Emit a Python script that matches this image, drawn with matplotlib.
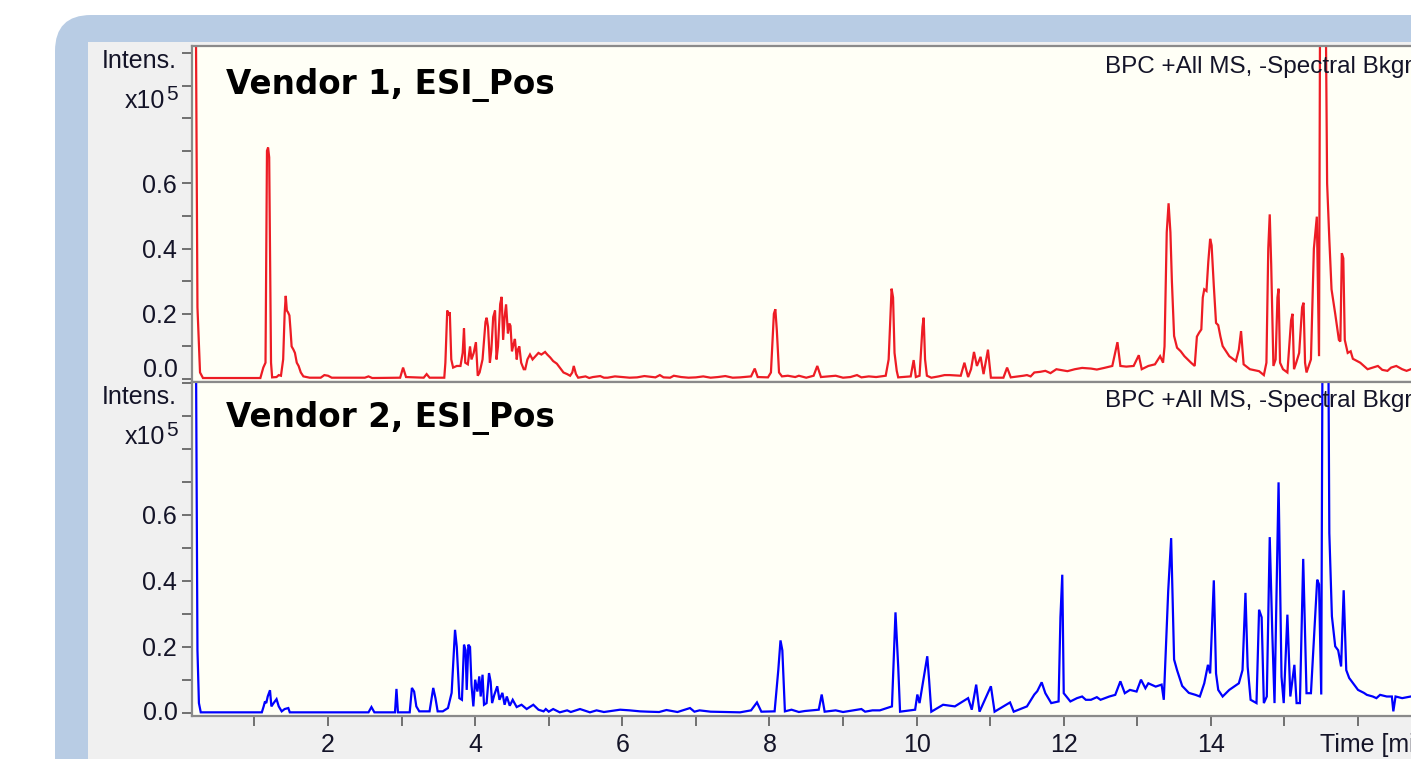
import matplotlib
matplotlib.use("Agg")
import matplotlib.pyplot as plt
from matplotlib.patches import FancyBboxPatch, Rectangle
from matplotlib.transforms import IdentityTransform

plt.rcParams['font.family'] = ['Liberation Sans', 'DejaVu Sans']

# ---------------- data (retention time [min], intensity [x10^5]) ----------------
vendor1_time = [
    0.151, 0.205, 0.225, 0.26, 0.30, 1.08, 1.12, 1.15, 1.17, 1.185, 1.20, 1.225, 1.24,
    1.30, 1.33, 1.36, 1.39, 1.41, 1.425, 1.44, 1.455, 1.475, 1.49, 1.505, 1.53, 1.55,
    1.575, 1.60, 1.63, 1.665, 1.75, 1.90, 1.95, 2.0, 2.05, 2.5, 2.55, 2.6, 2.98, 3.02,
    3.06, 3.30, 3.34, 3.38, 3.58, 3.595, 3.62, 3.64, 3.655, 3.675, 3.70, 3.75, 3.80,
    3.83, 3.848, 3.865, 3.90, 3.93, 3.95, 3.98, 4.01, 4.035, 4.06, 4.10, 4.14, 4.156,
    4.175, 4.20, 4.22, 4.245, 4.27, 4.29, 4.31, 4.34, 4.36, 4.38, 4.40, 4.42, 4.445,
    4.465, 4.48, 4.50, 4.52, 4.54, 4.565, 4.58, 4.60, 4.625, 4.66, 4.68, 4.71, 4.745,
    4.78, 4.82, 4.86, 4.90, 4.95, 4.98, 5.02, 5.06, 5.11, 5.15, 5.20, 5.25, 5.29, 5.32,
    5.34, 5.37, 5.40, 5.6, 5.8, 6.0, 6.2, 6.45, 6.51, 6.56, 6.8, 7.0, 7.3, 7.6, 7.75,
    7.80, 7.84, 7.98, 8.02, 8.06, 8.08, 8.10, 8.13, 8.17, 8.35, 8.40, 8.60, 8.65, 8.70,
    9.1, 9.19, 9.25, 9.45, 9.58, 9.62, 9.66, 9.68, 9.70, 9.73, 9.75, 9.92, 9.96, 9.99,
    10.04, 10.08, 10.096, 10.115, 10.14, 10.30, 10.45, 10.60, 10.65, 10.70, 10.74,
    10.78, 10.82, 10.87, 10.91, 10.97, 11.01, 11.18, 11.23, 11.28, 11.45, 11.60, 11.75,
    11.95, 12.15, 12.37, 12.55, 12.66, 12.73, 12.77, 12.85, 12.95, 13.02, 13.06, 13.15,
    13.24, 13.31, 13.35, 13.37, 13.40, 13.425, 13.45, 13.47, 13.50, 13.54, 13.59, 13.64,
    13.73, 13.78, 13.81, 13.84, 13.87, 13.89, 13.91, 13.94, 13.965, 13.99, 14.01, 14.04,
    14.07, 14.10, 14.13, 14.16, 14.25, 14.34, 14.38, 14.41, 14.445, 14.53, 14.655,
    14.72, 14.755, 14.78, 14.80, 14.82, 14.85, 14.88, 14.905, 14.92, 14.94, 14.98,
    15.04, 15.09, 15.11, 15.13, 15.16, 15.20, 15.24, 15.26, 15.28, 15.30, 15.36, 15.40,
    15.44, 15.47, 15.49, 15.545, 15.58, 15.61, 15.64, 15.69, 15.74, 15.76, 15.78, 15.80,
    15.82, 15.86, 15.90, 15.98, 16.08, 16.2, 16.33, 16.45, 16.6, 16.74, 16.9]
vendor1_intensity = [
    1.30, 1.05, 0.22, 0.02, 0.003, 0.003, 0.035, 0.05, 0.70, 0.71, 0.68, 0.05, 0.005,
    0.006, 0.012, 0.01, 0.06, 0.20, 0.255, 0.21, 0.205, 0.195, 0.15, 0.10, 0.09, 0.08,
    0.05, 0.04, 0.02, 0.008, 0.004, 0.004, 0.012, 0.01, 0.004, 0.004, 0.008, 0.003,
    0.004, 0.035, 0.006, 0.004, 0.015, 0.004, 0.004, 0.05, 0.21, 0.195, 0.205, 0.06,
    0.035, 0.04, 0.04, 0.08, 0.155, 0.05, 0.045, 0.10, 0.06, 0.08, 0.113, 0.01, 0.02,
    0.06, 0.175, 0.188, 0.16, 0.05, 0.09, 0.19, 0.21, 0.06, 0.10, 0.23, 0.252, 0.12,
    0.19, 0.229, 0.14, 0.17, 0.163, 0.085, 0.105, 0.123, 0.06, 0.09, 0.10, 0.05, 0.03,
    0.03, 0.06, 0.075, 0.06, 0.07, 0.08, 0.075, 0.083, 0.075, 0.066, 0.055, 0.047,
    0.035, 0.02, 0.015, 0.01, 0.02, 0.04, 0.015, 0.004, 0.006, 0.004, 0.006, 0.005,
    0.005, 0.012, 0.005, 0.006, 0.005, 0.006, 0.005, 0.008, 0.032, 0.006, 0.005, 0.02,
    0.20, 0.214, 0.15, 0.02, 0.008, 0.006, 0.01, 0.01, 0.04, 0.006, 0.006, 0.012,
    0.005, 0.006, 0.01, 0.06, 0.277, 0.25, 0.08, 0.025, 0.005, 0.008, 0.058, 0.006,
    0.01, 0.16, 0.188, 0.06, 0.01, 0.008, 0.012, 0.01, 0.05, 0.006, 0.03, 0.083, 0.04,
    0.068, 0.015, 0.09, 0.004, 0.004, 0.035, 0.005, 0.01, 0.02, 0.025, 0.028, 0.03,
    0.032, 0.034, 0.04, 0.113, 0.04, 0.038, 0.04, 0.073, 0.03, 0.04, 0.045, 0.07, 0.05,
    0.10, 0.45, 0.539, 0.45, 0.30, 0.132, 0.096, 0.085, 0.07, 0.05, 0.04, 0.13, 0.142,
    0.152, 0.25, 0.275, 0.27, 0.36, 0.43, 0.41, 0.285, 0.172, 0.165, 0.13, 0.101, 0.07,
    0.055, 0.09, 0.147, 0.045, 0.03, 0.024, 0.012, 0.05, 0.40, 0.505, 0.35, 0.04, 0.06,
    0.25, 0.277, 0.05, 0.03, 0.02, 0.18, 0.20, 0.03, 0.05, 0.08, 0.22, 0.234, 0.05,
    0.02, 0.06, 0.40, 0.498, 0.07, 1.60, 1.60, 0.60, 0.428, 0.275, 0.20, 0.12, 0.115,
    0.386, 0.37, 0.12, 0.08, 0.085, 0.056, 0.04, 0.035, 0.028, 0.035, 0.03, 0.032, 0.03]
# small baseline wiggles seen between the peaks of trace 1
vendor1_noise_time = [5.5, 5.55, 5.7, 5.75, 5.9, 6.1, 6.3, 6.65, 6.7, 6.9, 7.1, 7.2,
                      7.4, 7.5, 8.25, 8.5, 8.9, 9.0, 9.35, 10.2, 10.38, 11.5, 11.55,
                      11.68, 11.82, 11.9, 12.05, 12.25, 12.45, 15.93, 16.03, 16.13,
                      16.27, 16.4, 16.52, 16.66]
vendor1_noise_intensity = [0.008, 0.003, 0.009, 0.004, 0.008, 0.004, 0.009, 0.004,
                           0.01, 0.004, 0.008, 0.004, 0.009, 0.004, 0.01, 0.004, 0.01,
                           0.004, 0.008, 0.004, 0.012, 0.012, 0.008, 0.022, 0.018, 0.03,
                           0.024, 0.034, 0.029, 0.062, 0.05, 0.03, 0.04, 0.025, 0.04,
                           0.025]

vendor2_time = [
    0.151, 0.205, 0.225, 0.245, 0.27, 1.10, 1.125, 1.143, 1.16, 1.18, 1.211, 1.23, 1.26,
    1.30, 1.33, 1.37, 1.41, 1.46, 1.48, 2.55, 2.59, 2.63, 2.91, 2.93, 2.95, 3.11, 3.14,
    3.17, 3.20, 3.24, 3.38, 3.43, 3.46, 3.49, 3.56, 3.63, 3.68, 3.726, 3.75, 3.785, 3.82,
    3.848, 3.87, 3.885, 3.907, 3.93, 3.95, 3.975, 4.0, 4.03, 4.056, 4.075, 4.10, 4.12,
    4.155, 4.188, 4.21, 4.23, 4.26, 4.30, 4.33, 4.37, 4.40, 4.43, 4.47, 4.51, 4.564,
    4.63, 4.70, 4.79, 4.86, 4.93, 5.06, 5.15, 5.425, 5.56, 5.97, 6.24, 6.5, 6.92, 6.98,
    7.2, 7.6, 7.75, 7.83, 7.89, 8.07, 8.12, 8.15, 8.175, 8.21, 8.48, 8.67, 8.71, 8.75,
    9.25, 9.3, 9.50, 9.665, 9.713, 9.75, 9.775, 9.98, 10.01, 10.04, 10.145, 10.17, 10.20,
    10.36, 10.52, 10.70, 10.75, 10.81, 10.855, 11.01, 11.06, 11.27, 11.32, 11.5, 11.6,
    11.64, 11.70, 11.75, 11.83, 11.93, 11.955, 11.98, 12.0, 12.09, 12.18, 12.37, 12.62,
    12.70, 12.77, 12.83, 12.99, 13.05, 13.11, 13.20, 13.33, 13.36, 13.42, 13.46, 13.50,
    13.54, 13.61, 13.70, 13.79, 13.85, 13.91, 13.96, 13.99, 14.04, 14.07, 14.10, 14.16,
    14.25, 14.38, 14.43, 14.47, 14.50, 14.54, 14.62, 14.655, 14.69, 14.72, 14.76, 14.80,
    14.835, 14.865, 14.92, 14.96, 14.99, 15.04, 15.08, 15.135, 15.165, 15.21, 15.255,
    15.30, 15.36, 15.445, 15.47, 15.50, 15.525, 15.585, 15.61, 15.645, 15.69, 15.73,
    15.77, 15.805, 15.84, 15.88, 15.95, 16.08, 16.2, 16.39, 16.46, 16.48, 16.51, 16.74,
    16.9]
vendor2_intensity = [
    1.30, 1.10, 0.19, 0.03, 0.002, 0.002, 0.02, 0.035, 0.03, 0.05, 0.069, 0.02, 0.03,
    0.042, 0.02, 0.005, 0.012, 0.015, 0.002, 0.002, 0.018, 0.002, 0.002, 0.073, 0.002,
    0.002, 0.076, 0.065, 0.02, 0.005, 0.005, 0.076, 0.045, 0.005, 0.005, 0.015, 0.061,
    0.252, 0.20, 0.045, 0.04, 0.207, 0.19, 0.07, 0.207, 0.20, 0.085, 0.02, 0.101, 0.065,
    0.111, 0.05, 0.116, 0.025, 0.03, 0.121, 0.095, 0.03, 0.055, 0.081, 0.04, 0.061,
    0.025, 0.05, 0.022, 0.04, 0.018, 0.025, 0.012, 0.025, 0.01, 0.005, 0.012, 0.002,
    0.012, 0.002, 0.01, 0.005, 0.003, 0.015, 0.004, 0.004, 0.002, 0.008, 0.032, 0.004,
    0.005, 0.13, 0.22, 0.19, 0.005, 0.006, 0.01, 0.056, 0.004, 0.012, 0.004, 0.008,
    0.02, 0.305, 0.14, 0.004, 0.01, 0.056, 0.03, 0.172, 0.10, 0.004, 0.025, 0.02, 0.045,
    0.01, 0.086, 0.004, 0.081, 0.004, 0.032, 0.004, 0.02, 0.056, 0.066, 0.093, 0.06,
    0.03, 0.035, 0.29, 0.419, 0.06, 0.035, 0.045, 0.04, 0.05, 0.055, 0.096, 0.06, 0.065,
    0.101, 0.075, 0.085, 0.086, 0.04, 0.37, 0.53, 0.162, 0.13, 0.082, 0.061, 0.055,
    0.05, 0.09, 0.146, 0.12, 0.402, 0.12, 0.07, 0.05, 0.07, 0.09, 0.13, 0.364, 0.14,
    0.04, 0.03, 0.313, 0.29, 0.03, 0.05, 0.533, 0.24, 0.03, 0.699, 0.11, 0.03, 0.298,
    0.05, 0.146, 0.03, 0.03, 0.467, 0.06, 0.06, 0.404, 0.39, 0.056, 1.60, 1.60, 0.545,
    0.293, 0.202, 0.19, 0.141, 0.372, 0.13, 0.106, 0.085, 0.061, 0.05, 0.05, 0.05, 0.005,
    0.05, 0.051, 0.05]
# small baseline wiggles seen between the peaks of trace 2
vendor2_noise_time = [4.96, 5.0, 5.25, 5.3, 5.65, 5.75, 6.1, 6.35, 6.6, 6.75, 7.05, 7.4,
                      8.3, 8.4, 8.9, 9.0, 9.4, 12.25, 12.3, 12.45, 12.5, 12.9, 13.15,
                      13.25, 16.0, 16.12, 16.25, 16.3, 16.6]
vendor2_noise_intensity = [0.012, 0.004, 0.008, 0.003, 0.008, 0.003, 0.008, 0.004, 0.009,
                           0.003, 0.008, 0.003, 0.01, 0.003, 0.008, 0.003, 0.008, 0.05,
                           0.04, 0.048, 0.04, 0.07, 0.09, 0.08, 0.07, 0.055, 0.045,
                           0.055, 0.045]

panel_titles = ["Vendor 1, ESI_Pos", "Vendor 2, ESI_Pos"]
trace_label = "BPC +All MS, -Spectral Bkgrnd"
y_ticks = [0.0, 0.1, 0.2, 0.3, 0.4, 0.5, 0.6, 0.7, 0.8, 0.9, 1.0]
y_ticklabels = ["", "", "0.2", "", "0.4", "", "0.6", "", "", "", ""]
x_ticks = list(range(1, 17))
x_ticklabels = ["", "2", "", "4", "", "6", "", "8", "", "10", "", "12", "", "14", "", ""]


def merged(t_main, v_main, t_extra, v_extra):
    pts = sorted(zip(t_main + t_extra, v_main + v_extra), key=lambda p: p[0])
    return [p[0] for p in pts], [p[1] for p in pts]


trace1_t, trace1_v = merged(vendor1_time, vendor1_intensity,
                            vendor1_noise_time, vendor1_noise_intensity)
trace2_t, trace2_v = merged(vendor2_time, vendor2_intensity,
                            vendor2_noise_time, vendor2_noise_intensity)

# ---------------- layout helpers ----------------
W, H = 1411, 759
fig = plt.figure(figsize=(W / 100, H / 100), dpi=100)
fig.patch.set_facecolor("white")


def fx(x):
    return x / W


def fy(y):
    return 1 - y / H


# blue rounded frame and grey inner panel (pixel coordinates), behind the axes
blue = FancyBboxPatch((55, -60), 1500, 759 - 15 + 60, boxstyle="round,pad=0,rounding_size=36",
                      transform=IdentityTransform(), facecolor="#b8cce4", edgecolor="none",
                      zorder=-2)
fig.add_artist(blue)
grey = Rectangle((88, -60), 1500, 759 - 42 + 60, transform=IdentityTransform(),
                 facecolor="#f0f0f0", edgecolor="none", zorder=-1)
fig.add_artist(grey)

text_color = "#141428"
x_left_px, x_right_px = 192, 1520
t_of_px = lambda x: (x - 180.9) / 73.57

ax1 = fig.add_axes([fx(x_left_px), fy(382), fx(x_right_px - x_left_px), (382 - 46) / H])
ax2 = fig.add_axes([fx(x_left_px), fy(716), fx(x_right_px - x_left_px), (716 - 382) / H])
ax1.set_zorder(2)
ax2.set_zorder(2)

ax1.plot(trace1_t, trace1_v, color="#ed1c24", lw=1.6, solid_joinstyle="miter")
ax2.plot(trace2_t, trace2_v, color="#0000ff", lw=1.6, solid_joinstyle="miter")

ax1.set_ylim((379 - 382) / 326, (379 - 46) / 326)
ax2.set_ylim((713 - 716) / 330, (713 - 382) / 330)

for ax in (ax1, ax2):
    ax.set_facecolor("#fffff6")
    ax.set_xlim(t_of_px(x_left_px), t_of_px(x_right_px))
    for s in ax.spines.values():
        s.set_color("#8a8a8a")
        s.set_linewidth(1.6)
    ax.spines["right"].set_visible(False)
    ax.set_yticks(y_ticks)
    ax.set_yticklabels(y_ticklabels)
    ax.tick_params(axis="y", direction="out", length=7, width=1.4, color="#707070",
                   labelsize=18, labelcolor=text_color, pad=4)

ax1.tick_params(axis="x", bottom=False, labelbottom=False)
ax2.set_xticks(x_ticks)
ax2.set_xticklabels(x_ticklabels)
ax2.tick_params(axis="x", direction="out", length=7, width=1.4, color="#707070",
                labelsize=18, labelcolor=text_color, pad=5)

# y labels: "Intens. x10^5" and the shifted 0.0 of the top panel
for off in (0, 336):
    fig.text(fx(177), fy(61 + off), "Intens.", ha="right", va="center", fontsize=18,
             color=text_color)
    fig.text(fx(165), fy(108 + off), "x10", ha="right", va="baseline", fontsize=18,
             color=text_color)
    fig.text(fx(166), fy(100 + off), "5", ha="left", va="baseline", fontsize=15,
             color=text_color)
fig.text(fx(178), fy(370), "0.0", ha="right", va="center", fontsize=18, color=text_color)
fig.text(fx(178), fy(713), "0.0", ha="right", va="center", fontsize=18, color=text_color)

# panel titles and trace labels
for i, ax in enumerate((ax1, ax2)):
    off = 0 if i == 0 else 333
    fig.text(fx(226), fy(94 + off), panel_titles[i], ha="left", va="baseline",
             fontsize=23.5, fontweight="bold", family="DejaVu Sans", color="black",
             zorder=5)
    fig.text(fx(1105), fy(73 + off + (1 if i else 0)), trace_label, ha="left",
             va="baseline", fontsize=17.5, color=text_color, zorder=5)

fig.text(fx(1320), fy(745), "Time [min]", ha="left", va="center", fontsize=18,
         color=text_color)

fig.savefig("out.png", dpi=100)
